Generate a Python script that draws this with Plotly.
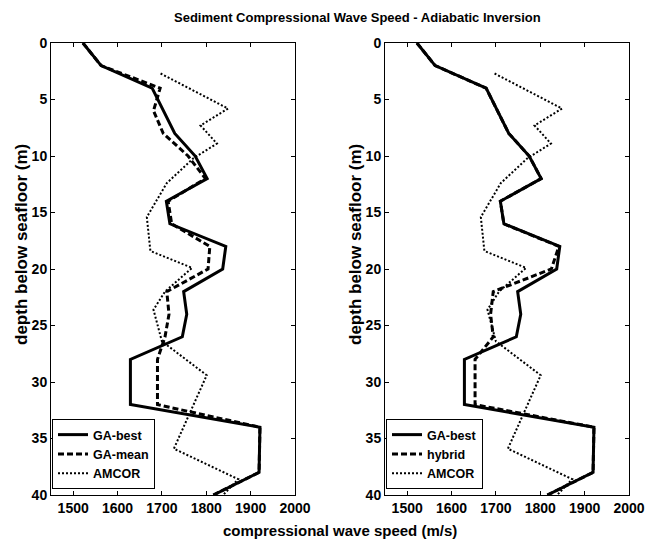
import plotly.graph_objects as go

# Depth nodes (m) of the inverted profiles
depth_ga = [0, 2, 4, 8, 10, 12, 14, 16, 18, 20, 22, 24, 26, 28, 32, 34, 38, 40]
ga_best = [1522, 1563, 1678, 1729, 1775, 1802, 1710, 1718, 1844, 1837,
           1749, 1756, 1746, 1629, 1629, 1921, 1919, 1816]

depth_mean = [0, 2, 4, 6, 8, 10, 12, 14, 16, 18, 20, 22, 24, 26, 28, 32, 34, 38, 40]
ga_mean = [1522, 1563, 1696, 1681, 1703, 1759, 1798, 1714, 1722, 1808, 1804,
           1711, 1716, 1707, 1690, 1690, 1921, 1919, 1816]

depth_hyb = [0, 2, 4, 8, 10, 12, 14, 16, 18, 20, 22, 24, 26, 28, 32, 34, 38, 40]
hybrid = [1522, 1563, 1678, 1729, 1775, 1802, 1710, 1718, 1842, 1825,
          1694, 1688, 1694, 1653, 1653, 1921, 1919, 1816]

# AMCOR core measurements
depth_amcor = [2.7, 5.8, 7.3, 8.9, 10.2, 12.4, 15.4, 18.4, 19.9, 22.0,
               23.6, 26.4, 29.4, 35.9, 38.6, 40.0]
amcor = [1697, 1849, 1787, 1824, 1771, 1711, 1666, 1674, 1768, 1707,
         1681, 1700, 1801, 1727, 1872, 1838]

x_ticks = [1500, 1600, 1700, 1800, 1900, 2000]
y_ticks = [0, 5, 10, 15, 20, 25, 30, 35, 40]

FONT = "Liberation Sans, Arial, Helvetica, sans-serif"
W, H = 647, 546

fig = go.Figure()

panels = [
    ("x", "y", "legend", "GA-mean", depth_mean, ga_mean),
    ("x2", "y2", "legend2", "hybrid", depth_hyb, hybrid),
]
for xa, ya, leg, name2, d2, v2 in panels:
    fig.add_trace(go.Scatter(x=ga_best, y=depth_ga, mode="lines", name="GA-best",
                             xaxis=xa, yaxis=ya, legend=leg,
                             line=dict(color="black", width=3)))
    fig.add_trace(go.Scatter(x=v2, y=d2, mode="lines", name=name2,
                             xaxis=xa, yaxis=ya, legend=leg,
                             line=dict(color="black", width=3, dash="6px,3px")))
    fig.add_trace(go.Scatter(x=amcor, y=depth_amcor, mode="lines", name="AMCOR",
                             xaxis=xa, yaxis=ya, legend=leg,
                             line=dict(color="black", width=2, dash="2px,2px")))

axis_common = dict(showline=True, linecolor="black", linewidth=1, mirror="allticks",
                   ticks="inside", ticklen=4, tickcolor="black", showgrid=False,
                   zeroline=False, automargin=False,
                   tickfont=dict(size=14, color="black"))

y_dom = [(H - 495) / H, (H - 43) / H]

legend_common = dict(xanchor="left", yanchor="top", y=(H - 419) / H,
                     bgcolor="white", bordercolor="black", borderwidth=1,
                     font=dict(size=12.5, color="black"), tracegroupgap=0)

fig.update_layout(
    width=W, height=H, autosize=False,
    margin=dict(l=0, r=0, t=0, b=0, pad=0),
    paper_bgcolor="white", plot_bgcolor="white",
    font=dict(family=FONT, color="black", weight="bold"),
    xaxis=dict(domain=[51 / W, 295 / W], range=[1450, 2000], tickvals=x_ticks,
               anchor="y", **axis_common),
    yaxis=dict(domain=y_dom, range=[40, 0], tickvals=y_ticks,
               anchor="x", **axis_common),
    xaxis2=dict(domain=[385 / W, 629 / W], range=[1450, 2000], tickvals=x_ticks,
                anchor="y2", **axis_common),
    yaxis2=dict(domain=y_dom, range=[40, 0], tickvals=y_ticks,
                anchor="x2", **axis_common),
    legend=dict(x=52 / W, **legend_common),
    legend2=dict(x=386 / W, **legend_common),
    showlegend=True,
    annotations=[
        dict(text="Sediment Compressional Wave Speed - Adiabatic Inversion",
             x=357 / W, y=(H - 17) / H, xref="paper", yref="paper",
             xanchor="center", yanchor="middle",
             showarrow=False, font=dict(size=13)),
        dict(text="compressional wave speed (m/s)",
             x=340 / W, y=(H - 530) / H, xref="paper", yref="paper",
             xanchor="center", yanchor="middle",
             showarrow=False, font=dict(size=15)),
        dict(text="depth below seafloor (m)", textangle=-90,
             x=22 / W, y=(H - 245) / H, xref="paper", yref="paper",
             xanchor="center", yanchor="middle",
             showarrow=False, font=dict(size=17)),
        dict(text="depth below seafloor (m)", textangle=-90,
             x=356 / W, y=(H - 245) / H, xref="paper", yref="paper",
             xanchor="center", yanchor="middle",
             showarrow=False, font=dict(size=17)),
    ],
)

fig.write_html("out.html")
